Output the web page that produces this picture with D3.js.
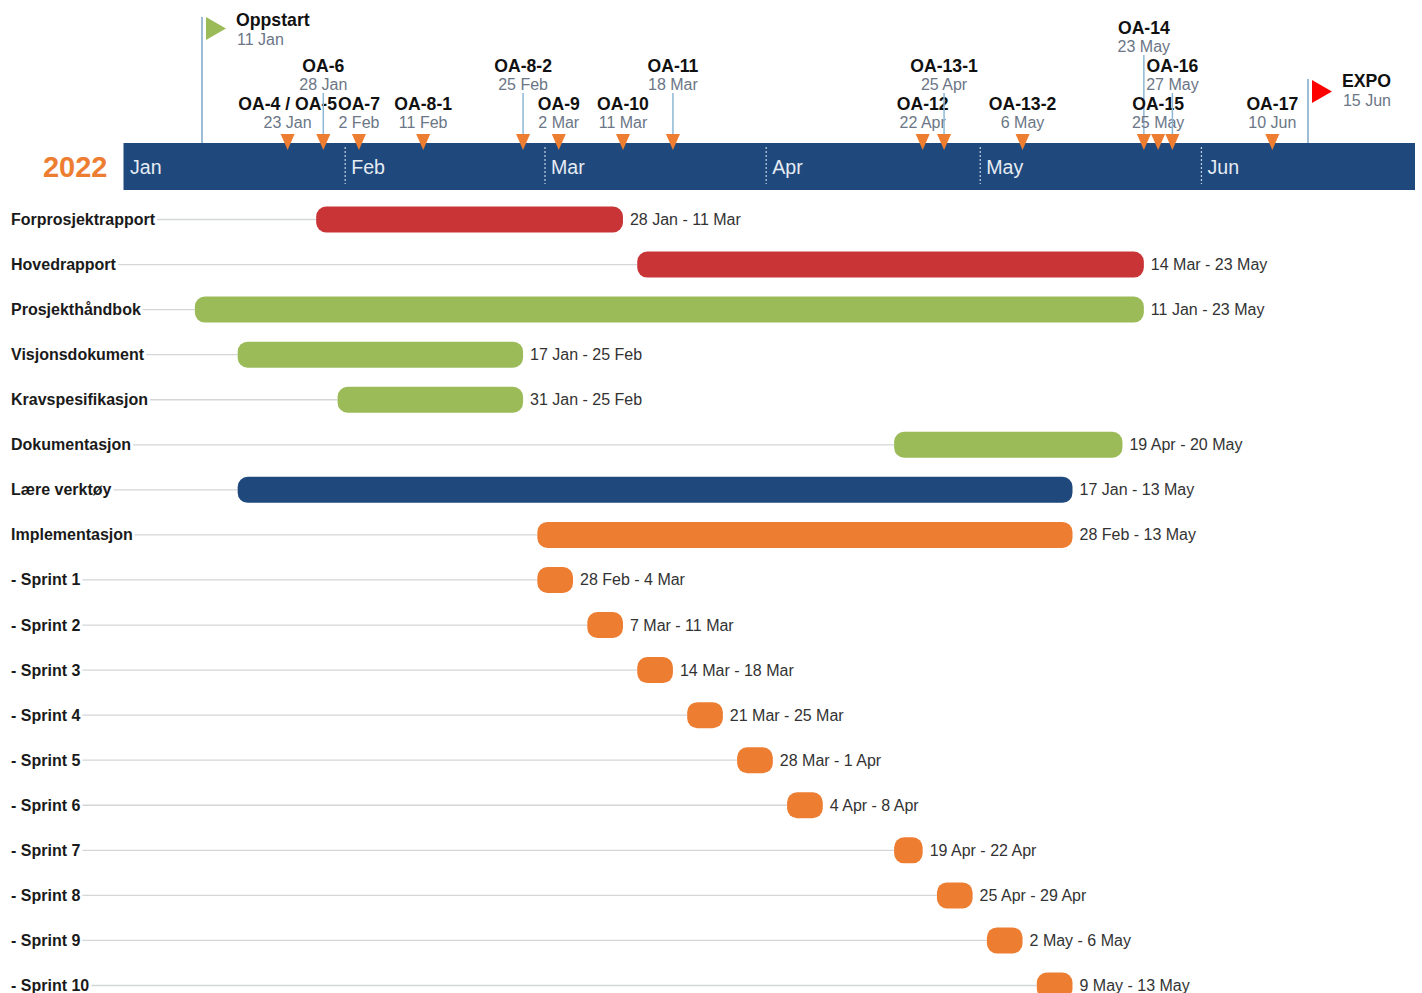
<!DOCTYPE html>
<html>
<head>
<meta charset="utf-8">
<script src="https://cdn.jsdelivr.net/npm/d3@7"></script>
<style>
  html, body { margin: 0; padding: 0; background: #fff; overflow: hidden; }
  svg { display: block; font-family: "Liberation Sans", Arial, sans-serif; }
</style>
</head>
<body>
<svg id="chart" width="1422" height="993"></svg>
<script>
  const yearLabel = "2022";
  const monthStarts = ["2022-01-01","2022-02-01","2022-03-01","2022-04-01","2022-05-01","2022-06-01"];

  const taskNames = ["Forprosjektrapport","Hovedrapport","Prosjekthåndbok","Visjonsdokument","Kravspesifikasjon",
                     "Dokumentasjon","Lære verktøy","Implementasjon","- Sprint 1","- Sprint 2","- Sprint 3",
                     "- Sprint 4","- Sprint 5","- Sprint 6","- Sprint 7","- Sprint 8","- Sprint 9","- Sprint 10"];
  const taskStarts = ["2022-01-28","2022-03-14","2022-01-11","2022-01-17","2022-01-31",
                      "2022-04-19","2022-01-17","2022-02-28","2022-02-28","2022-03-07","2022-03-14",
                      "2022-03-21","2022-03-28","2022-04-04","2022-04-19","2022-04-25","2022-05-02","2022-05-09"];
  const taskEnds = ["2022-03-11","2022-05-23","2022-05-23","2022-02-25","2022-02-25",
                    "2022-05-20","2022-05-13","2022-05-13","2022-03-04","2022-03-11","2022-03-18",
                    "2022-03-25","2022-04-01","2022-04-08","2022-04-22","2022-04-29","2022-05-06","2022-05-13"];
  const taskGroups = ["rapport","rapport","dokument","dokument","dokument",
                      "dokument","verktoy","impl","impl","impl","impl",
                      "impl","impl","impl","impl","impl","impl","impl"];

  const milestoneNames = ["OA-4 / OA-5","OA-6","OA-7","OA-8-1","OA-8-2","OA-9","OA-10","OA-11",
                          "OA-12","OA-13-1","OA-13-2","OA-14","OA-15","OA-16","OA-17"];
  const milestoneDates = ["2022-01-23","2022-01-28","2022-02-02","2022-02-11","2022-02-25","2022-03-02","2022-03-11","2022-03-18",
                          "2022-04-22","2022-04-25","2022-05-06","2022-05-23","2022-05-25","2022-05-27","2022-06-10"];

  const flagNames = ["Oppstart","EXPO"];
  const flagDates = ["2022-01-11","2022-06-15"];

  const parse = d3.utcParse("%Y-%m-%d");
  const dayFormat = d3.utcFormat("%-d %b");
  const monthFormat = d3.utcFormat("%b");
  const dayBefore = d => d3.utcDay.offset(d, -1);

  const BAND_TOP = 143;
  const BAND_BOTTOM = 190;
  const BAR_HEIGHT = 26;
  // how many label rows a milestone is lifted above the band
  const lifted = { "OA-6": 1, "OA-8-2": 1, "OA-11": 1, "OA-13-1": 1, "OA-16": 1, "OA-14": 2 };
  const TIER_Y = [104, 66, 28];

  const x = d3.scaleUtc()
              .domain([parse("2021-12-31"), parse("2022-06-30")])
              .range([123.5, 1415]);
  const y = d3.scalePoint()
              .domain(taskNames)
              .range([219.5, 985.5]);
  const color = d3.scaleOrdinal()
                  .domain(["rapport","dokument","verktoy","impl"])
                  .range(["#c93536","#9bbb59","#1f497d","#ed7d31"]);

  const svg = d3.select("#chart");

  // month band
  svg.append("rect")
     .attr("x", x.range()[0])
     .attr("y", BAND_TOP)
     .attr("width", x.range()[1] - x.range()[0])
     .attr("height", BAND_BOTTOM - BAND_TOP)
     .attr("fill", "#1f497d");

  svg.append("text")
     .attr("x", 107.5)
     .attr("y", 177)
     .attr("text-anchor", "end")
     .attr("font-size", 29)
     .attr("font-weight", "bold")
     .attr("fill", "#ed7d31")
     .text(yearLabel);

  const axis = d3.axisBottom(x)
                 .tickValues(monthStarts.map(d => dayBefore(parse(d))))
                 .tickSize(37)
                 .tickFormat(d => monthFormat(d3.utcDay.offset(d, 1)));
  const axisGroup = svg.append("g")
                       .attr("transform", `translate(0,${BAND_TOP + 4})`)
                       .call(axis);
  axisGroup.select(".domain").remove();
  axisGroup.selectAll(".tick line")
           .attr("stroke", "#c6d2e0")
           .attr("stroke-width", 1.2)
           .attr("stroke-dasharray", "2 2");
  axisGroup.select(".tick line").remove();
  axisGroup.selectAll(".tick text")
           .attr("x", 6)
           .attr("y", 27)
           .attr("dy", 0)
           .attr("text-anchor", "start")
           .attr("font-family", "'Liberation Sans', Arial, sans-serif")
           .attr("font-size", 19.6)
           .attr("fill", "#e6ecf3");

  // start and end flags
  const flags = svg.selectAll(".flag")
                   .data(flagNames)
                   .enter()
                   .append("g")
                   .attr("class", "flag")
                   .attr("transform", (d, i) => `translate(${x(parse(flagDates[i]))},0)`);
  flags.append("line")
       .attr("y1", (d, i) => i === 0 ? 17 : 79)
       .attr("y2", BAND_TOP)
       .attr("stroke", "#9dbdd6")
       .attr("stroke-width", 2);
  flags.append("path")
       .attr("d", (d, i) => {
         const top = i === 0 ? 17 : 80;
         return `M4,${top}L24,${top + 11.5}L4,${top + 23}Z`;
       })
       .attr("fill", (d, i) => i === 0 ? "#9bbb59" : "#ff0000");
  flags.append("text")
       .attr("x", 34)
       .attr("y", (d, i) => i === 0 ? 26 : 87)
       .attr("font-size", 17.7)
       .attr("font-weight", "bold")
       .attr("fill", "#111")
       .text(d => d);
  flags.append("text")
       .attr("x", 35)
       .attr("y", (d, i) => i === 0 ? 45 : 106)
       .attr("font-size", 16)
       .attr("fill", "#6b7686")
       .text((d, i) => dayFormat(parse(flagDates[i])));

  // milestones
  const milestones = svg.selectAll(".milestone")
                        .data(milestoneNames)
                        .enter()
                        .append("g")
                        .attr("class", "milestone")
                        .attr("transform", (d, i) => `translate(${x(parse(milestoneDates[i]))},0)`);
  milestones.filter(d => lifted[d])
            .append("line")
            .attr("y1", d => TIER_Y[lifted[d]] + 27)
            .attr("y2", BAND_TOP)
            .attr("stroke", "#8db8d4")
            .attr("stroke-width", 1.5);
  milestones.append("path")
            .attr("d", "M-7,-8L7,-8L0,8Z")
            .attr("transform", "translate(0,142)")
            .attr("fill", "#ed7d31");
  milestones.append("text")
            .attr("text-anchor", "middle")
            .attr("y", d => TIER_Y[lifted[d] || 0] + 6)
            .attr("font-size", 17.6)
            .attr("font-weight", "bold")
            .attr("fill", "#111")
            .text(d => d);
  milestones.append("text")
            .attr("text-anchor", "middle")
            .attr("y", d => TIER_Y[lifted[d] || 0] + 24)
            .attr("font-size", 16)
            .attr("fill", "#6b7686")
            .text((d, i) => dayFormat(parse(milestoneDates[i])));

  // task rows
  const rows = svg.selectAll(".row")
                  .data(taskNames)
                  .enter()
                  .append("g")
                  .attr("class", "row")
                  .attr("transform", d => `translate(0,${y(d)})`);
  const rowLabels = rows.append("text")
                        .attr("x", 11)
                        .attr("y", 5.5)
                        .attr("font-size", 16)
                        .attr("font-weight", "bold")
                        .attr("fill", "#1a1a1a")
                        .text(d => d);
  rows.insert("line", "text")
      .attr("x1", function(d, i) { return 11 + rowLabels.nodes()[i].getComputedTextLength() + 2; })
      .attr("x2", (d, i) => x(dayBefore(parse(taskStarts[i]))))
      .attr("stroke", "#d4d6d8")
      .attr("stroke-width", 1.3);
  rows.append("rect")
      .attr("x", (d, i) => x(dayBefore(parse(taskStarts[i]))))
      .attr("y", -BAR_HEIGHT / 2)
      .attr("width", (d, i) => x(parse(taskEnds[i])) - x(dayBefore(parse(taskStarts[i]))))
      .attr("height", BAR_HEIGHT)
      .attr("rx", 10)
      .attr("fill", (d, i) => color(taskGroups[i]));
  rows.append("text")
      .attr("x", (d, i) => x(parse(taskEnds[i])) + 7)
      .attr("y", 5.5)
      .attr("font-size", 16)
      .attr("fill", "#333")
      .text((d, i) => `${dayFormat(parse(taskStarts[i]))} - ${dayFormat(parse(taskEnds[i]))}`);
</script>
</body>
</html>
